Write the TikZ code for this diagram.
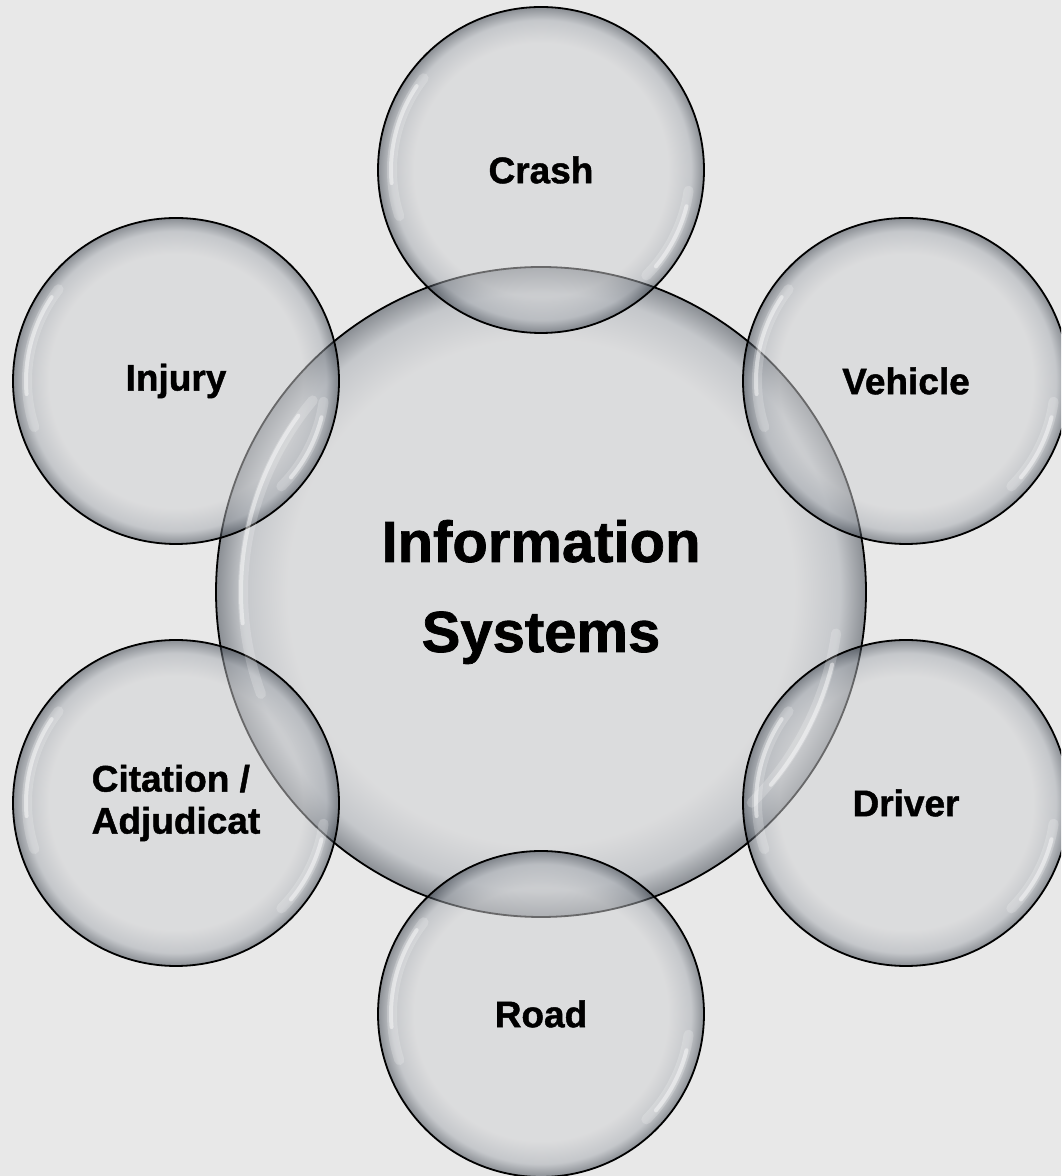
\documentclass[tikz,border=0pt]{standalone}
\usepackage{fontspec}
\setmainfont[FakeBold=1.2]{Liberation Sans}
\definecolor{bgcol}{HTML}{E8E8E8}
\definecolor{bubin}{HTML}{D0D1D3}
\definecolor{bubmid}{HTML}{A3A8AF}
\definecolor{bubout}{HTML}{2F3742}
\pgfdeclareradialshading{bubble}{\pgfpoint{0bp}{0bp}}{color(0bp)=(bubin); color(19.5bp)=(bubin); color(23bp)=(bubmid); color(25bp)=(bubout); color(50bp)=(bubout)}
\tikzset{
  ball/.style={circle, shading=bubble, fill opacity=0.5, text opacity=1,
    draw=black, draw opacity=1, line width=1.8pt, inner sep=0pt,
    font=\bfseries\fontsize{37}{42}\selectfont, align=center},
  small/.style={ball, minimum size=326pt},
  big/.style={ball, minimum size=650pt, font=\bfseries\fontsize{58}{90}\selectfont},
  hlwide/.style={white, line width=10pt, opacity=0.2, line cap=round},
  hlthin/.style={white, line width=4pt, opacity=0.45, line cap=round}
}
\begin{document}
\begin{tikzpicture}[x=1pt,y=1pt]
\useasboundingbox (0,0) rectangle (1061,1176);
\clip (0,0) rectangle (1061,1176);
\fill[bgcol] (0,0) rectangle (1061,1176);
\node[big] (info) at (541,584) {Information\\Systems};
\node[small] (crash) at (541,1006) {Crash};
\node[small] (vehicle) at (906,795) {Vehicle};
\node[small] (driver) at (906,373) {Driver};
\node[small] (road) at (541,162) {Road};
\node[small, align=left] (citation) at (176,373) {Citation /\\Adjudicat};
\node[small] (injury) at (176,795) {Injury};
\foreach \n in {crash,vehicle,driver,road,citation,injury}{
  \draw[hlwide] ([shift={(142:149)}]\n.center) arc[start angle=142,end angle=198,radius=149];
  \draw[hlthin] ([shift={(146:150)}]\n.center) arc[start angle=146,end angle=185,radius=150];
  \draw[hlwide] ([shift={(-45:149)}]\n.center) arc[start angle=-45,end angle=-8,radius=149];
  \draw[hlthin] ([shift={(-40:150)}]\n.center) arc[start angle=-40,end angle=-14,radius=150];
}
\draw[hlwide] ([shift={(140:298)}]info.center) arc[start angle=140,end angle=200,radius=298];
\draw[hlthin] ([shift={(144:300)}]info.center) arc[start angle=144,end angle=186,radius=300];
\draw[hlwide] ([shift={(-45:298)}]info.center) arc[start angle=-45,end angle=-8,radius=298];
\draw[hlthin] ([shift={(-40:300)}]info.center) arc[start angle=-40,end angle=-14,radius=300];
\end{tikzpicture}
\end{document}
